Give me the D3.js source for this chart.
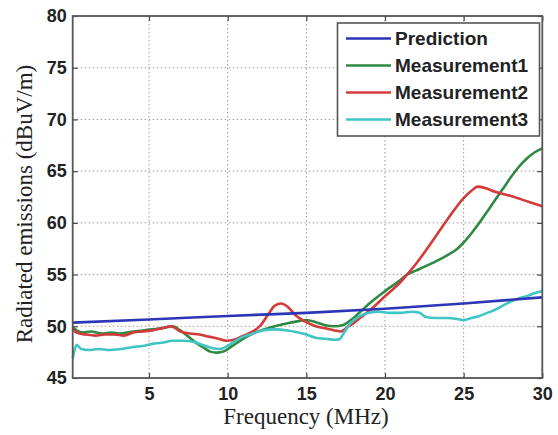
<!DOCTYPE html>
<html>
<head>
<meta charset="utf-8">
<script src="https://cdn.jsdelivr.net/npm/d3@7"></script>
<style>
  html, body { margin: 0; padding: 0; background: #fff; }
  svg { display: block; }
</style>
</head>
<body>
<svg id="chart" width="558" height="435"></svg>
<script>
// Radiated emissions vs. frequency: prediction and three measurements
const seriesNames = ["Prediction", "Measurement1", "Measurement2", "Measurement3"];
const seriesColors = ["#2b35b5", "#2e8a43", "#d43a3a", "#40c4c4"];

const xTicks = [5, 10, 15, 20, 25, 30];
const yTicks = [45, 50, 55, 60, 65, 70, 75, 80];

const predFreq = [0.15, 5, 10, 15, 20, 25, 30];
const predVals = [50.35, 50.65, 51.0, 51.3, 51.7, 52.2, 52.8];

const m1Freq = [0.15, 0.4, 0.8, 1.3, 2, 2.6, 3.2, 4, 4.6, 5.2, 5.8, 6.5, 7.0, 7.5, 8.0, 8.5, 8.9, 9.3, 9.8, 10.3, 11, 11.6, 12.3, 13, 13.8, 14.5, 15, 15.6, 16.2, 16.8, 17.3, 18, 18.5, 19, 20, 21, 21.4, 22, 23, 24, 24.6, 25, 25.5, 26, 26.5, 27, 27.5, 28, 28.5, 29, 29.5, 30];
const m1Vals = [49.9, 49.6, 49.4, 49.5, 49.3, 49.4, 49.3, 49.5, 49.6, 49.7, 49.8, 50.0, 49.6, 49.0, 48.4, 47.9, 47.55, 47.45, 47.6, 48.1, 48.8, 49.3, 49.7, 50.0, 50.3, 50.5, 50.6, 50.4, 50.1, 50.0, 50.1, 50.8, 51.5, 52.2, 53.4, 54.5, 55.0, 55.4, 56.1, 56.9, 57.5, 58.1, 59.0, 60.0, 61.1, 62.2, 63.3, 64.4, 65.4, 66.2, 66.8, 67.2];

const m2Freq = [0.15, 0.3, 0.6, 1, 1.6, 2.2, 2.8, 3.4, 4, 4.6, 5.2, 5.8, 6.4, 7.0, 7.6, 8.2, 8.8, 9.4, 9.9, 10.4, 11, 11.6, 12.1, 12.6, 13.0, 13.4, 13.8, 14.3, 15, 15.6, 16.2, 16.8, 17.2, 17.6, 18, 18.5, 19, 20, 21, 21.4, 22, 23, 24, 25, 25.5, 25.9, 26.3, 27, 28, 29, 30];
const m2Vals = [49.8, 49.5, 49.3, 49.2, 49.1, 49.2, 49.2, 49.1, 49.4, 49.5, 49.6, 49.8, 50.0, 49.5, 49.3, 49.2, 49.0, 48.8, 48.6, 48.7, 49.1, 49.5, 50.1, 51.2, 52.0, 52.2, 51.9, 51.1, 50.4, 50.0, 49.8, 49.6, 49.5, 49.9, 50.3, 50.9, 51.5, 52.9, 54.3, 55.0, 56.1, 58.2, 60.4, 62.4, 63.1, 63.5, 63.4, 63.0, 62.6, 62.1, 61.6];

const m3Freq = [0.15, 0.25, 0.4, 0.7, 1.2, 1.8, 2.5, 3.2, 4, 4.6, 5.2, 5.8, 6.5, 7.2, 7.8, 8.4, 9, 9.5, 10, 10.5, 11, 11.6, 12.2, 13, 13.8, 14.5, 15, 15.6, 16.2, 16.8, 17.1, 17.4, 17.8, 18.3, 19, 19.6, 20.3, 21, 21.7, 22.2, 22.6, 23.2, 24, 24.6, 25, 25.5, 26, 26.5, 27, 27.5, 28, 28.5, 29, 29.5, 30];
const m3Vals = [46.9, 47.6, 48.2, 47.8, 47.7, 47.8, 47.7, 47.8, 48.0, 48.1, 48.3, 48.4, 48.6, 48.6, 48.5, 48.2, 47.9, 47.8, 48.1, 48.6, 49.0, 49.3, 49.6, 49.7, 49.6, 49.4, 49.2, 48.9, 48.8, 48.7, 48.75, 49.4, 50.3, 50.9, 51.3, 51.4, 51.3, 51.3, 51.4, 51.3, 50.9, 50.8, 50.8, 50.7, 50.6, 50.8, 51.0, 51.3, 51.6, 52.0, 52.4, 52.7, 52.9, 53.2, 53.4];

const seriesFreqs = [predFreq, m1Freq, m2Freq, m3Freq];
const seriesVals = [predVals, m1Vals, m2Vals, m3Vals];

const svg = d3.select("#chart");
const plot = { left: 72.7, right: 542.3, top: 16, bottom: 378 };

const x = d3.scaleLinear().domain([0.15, 30]).range([plot.left, plot.right]);
const y = d3.scaleLinear().domain([45, 80]).range([plot.bottom, plot.top]);

const tickFont = "'Liberation Sans', Arial, sans-serif";
const labelFont = "'Liberation Serif', 'Times New Roman', serif";

// dotted grid
const grid = svg.append("g");
grid.selectAll("line.gx").data(xTicks.filter(t => t < 30)).join("line")
  .attr("x1", d => x(d)).attr("x2", d => x(d))
  .attr("y1", plot.top).attr("y2", plot.bottom)
  .attr("stroke", "#9a9a9a").attr("stroke-width", 1).attr("stroke-dasharray", "1.5,2.5");
grid.selectAll("line.gy").data(yTicks.filter(t => t > 45 && t < 80)).join("line")
  .attr("x1", plot.left).attr("x2", plot.right)
  .attr("y1", d => y(d)).attr("y2", d => y(d))
  .attr("stroke", "#9a9a9a").attr("stroke-width", 1).attr("stroke-dasharray", "1.5,2.5");

// axes with inward ticks
const axStyle = g => {
  g.select(".domain").remove();
  g.selectAll(".tick line").attr("stroke", "#444").attr("stroke-width", 1.2);
  g.selectAll(".tick text").attr("fill", "#222").attr("font-family", tickFont)
    .attr("font-size", 18).attr("font-weight", "bold");
};
svg.append("g").attr("transform", `translate(0,${plot.bottom})`)
  .call(d3.axisBottom(x).tickValues(xTicks).tickFormat(d3.format("d")).tickSize(-5).tickPadding(9))
  .call(axStyle);
svg.append("g").attr("transform", `translate(${plot.left},0)`)
  .call(d3.axisLeft(y).tickValues(yTicks).tickFormat(d3.format("d")).tickSize(-5).tickPadding(6))
  .call(axStyle);
svg.append("g").attr("transform", `translate(0,${plot.top})`)
  .call(d3.axisTop(x).tickValues(xTicks).tickFormat("").tickSize(-5))
  .call(axStyle);
svg.append("g").attr("transform", `translate(${plot.right},0)`)
  .call(d3.axisRight(y).tickValues(yTicks).tickFormat("").tickSize(-5))
  .call(axStyle);

// data lines
const line = d3.line().x(d => x(d[0])).y(d => y(d[1])).curve(d3.curveMonotoneX);
const order = [1, 2, 3, 0];
svg.append("g").selectAll("path").data(order).join("path")
  .attr("d", i => line(seriesFreqs[i].map((f, k) => [f, seriesVals[i][k]])))
  .attr("fill", "none")
  .attr("stroke", i => seriesColors[i])
  .attr("stroke-width", 2.6)
  .attr("stroke-linejoin", "round");

// box
svg.append("rect")
  .attr("x", plot.left).attr("y", plot.top)
  .attr("width", plot.right - plot.left).attr("height", plot.bottom - plot.top)
  .attr("fill", "none").attr("stroke", "#555").attr("stroke-width", 1.8);

// legend
const legend = svg.append("g");
legend.append("rect")
  .attr("x", 337.5).attr("y", 23).attr("width", 202).attr("height", 113)
  .attr("fill", "#fff").attr("stroke", "#555").attr("stroke-width", 1.6);
const rows = legend.selectAll("g.row").data(seriesNames).join("g")
  .attr("transform", (d, i) => `translate(0,${38.5 + i * 27})`);
rows.append("line")
  .attr("x1", 346).attr("x2", 391).attr("y1", 0).attr("y2", 0)
  .attr("stroke", (d, i) => seriesColors[i]).attr("stroke-width", 2.6);
rows.append("text")
  .attr("x", 395).attr("y", 0).attr("dy", "0.35em")
  .attr("font-family", tickFont).attr("font-size", 19).attr("font-weight", "bold")
  .attr("fill", "#222").text(d => d);

// axis titles
svg.append("text")
  .attr("x", 306).attr("y", 424).attr("text-anchor", "middle")
  .attr("font-family", labelFont).attr("font-size", 23).attr("fill", "#222")
  .text("Frequency (MHz)");
svg.append("text")
  .attr("transform", "translate(32,204) rotate(-90)").attr("text-anchor", "middle")
  .attr("font-family", labelFont).attr("font-size", 23).attr("fill", "#222")
  .text("Radiated emissions (dBuV/m)");
</script>
</body>
</html>
